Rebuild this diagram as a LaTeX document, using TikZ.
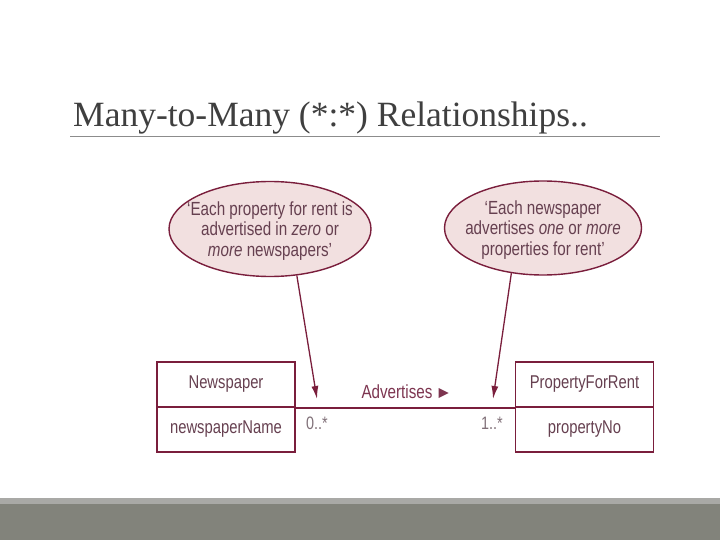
\documentclass[tikz,border=0pt]{standalone}
\usepackage{fontspec}
\setmainfont{Liberation Serif}
\newfontfamily\cond[FakeStretch=0.8]{Liberation Sans}
\usetikzlibrary{shapes.geometric,arrows.meta,calc}
\definecolor{umlred}{HTML}{7A1E3C}
\definecolor{bubblefill}{HTML}{F2E0E0}
\definecolor{txtcol}{HTML}{664050}
\definecolor{advcol}{HTML}{7D3550}
\definecolor{multcol}{HTML}{807078}
\definecolor{titlegray}{HTML}{3F3F3F}
\definecolor{rulegray}{HTML}{8C8C8C}
\definecolor{footlight}{HTML}{A9A9A6}
\definecolor{footdark}{HTML}{82837B}
\tikzset{
  bubble/.style={ellipse, draw=umlred, fill=bubblefill, line width=1.4pt, inner sep=0pt},
  bubbletext/.style={font=\cond\fontsize{19}{20.5}\selectfont, align=center, text=txtcol, inner sep=0pt},
  cls/.style={draw=umlred, line width=1.8pt, minimum width=138pt, minimum height=45pt, inner sep=0pt,
    font=\cond\fontsize{18.5}{20}\selectfont, text=txtcol},
  assoc/.style={draw=umlred, line width=1.8pt},
  pointer/.style={draw=umlred, line width=1.3pt, -{Latex[length=13pt,width=7pt]}},
  mult/.style={font=\cond\fontsize{18}{20}\selectfont, text=multcol, inner sep=0pt},
}
\begin{document}
\begin{tikzpicture}[x=1pt,y=-1pt]
\useasboundingbox (0,0) rectangle (720,540);
\fill[white] (0,0) rectangle (720,540);
\fill[footlight] (0,498) rectangle (720,504);
\fill[footdark] (0,504) rectangle (720,540);
% title
\node[anchor=base west, inner sep=0pt, text=titlegray, font=\fontsize{35.5}{40}\selectfont] (title) at (73,127) {Many-to-Many (*:*) Relationships..};
\draw[rulegray, line width=0.8pt] (70,136.5) -- (660,136.5);
% bubbles
\node[bubble, minimum width=202pt, minimum height=95pt] (el) at (270,229) {};
\node[bubbletext] (elt) at (270,231) {‘Each property for rent is\\advertised in \textit{zero} or\\\textit{more} newspapers’};
\node[bubble, minimum width=197pt, minimum height=94pt] (er) at (543,228) {};
\node[bubbletext] (ert) at (543,230) {‘Each newspaper\\advertises \textit{one} or \textit{more}\\properties for rent’};
% classes
\node[cls] (nph) at (226,384.5) {Newspaper};
\node[cls] (npa) at (226,429.5) {newspaperName};
\node[cls] (pfh) at (584.5,384.5) {PropertyForRent};
\node[cls] (pfa) at (584.5,429.5) {propertyNo};
% association
\draw[assoc] (nph.south east) -- (pfh.south west);
\node[anchor=base, inner sep=0pt, text=advcol, font=\cond\fontsize{19}{20}\selectfont] (adv) at (397,398) {Advertises};
\fill[advcol] ($(adv.base east)+(6,-10)$) -- ++(10,5) -- ++(-10,5) -- cycle;
\node[mult, anchor=base west] (m0) at (306,429) {0..*};
\node[mult, anchor=base east] (m1) at (503,429) {1..*};
% pointers
\coordinate (tipL) at (317,399);
\coordinate (tipR) at (493,399);
\draw[pointer] (el.-60) -- (tipL);
\draw[pointer] (er.-125) -- (tipR);
\end{tikzpicture}
\end{document}
